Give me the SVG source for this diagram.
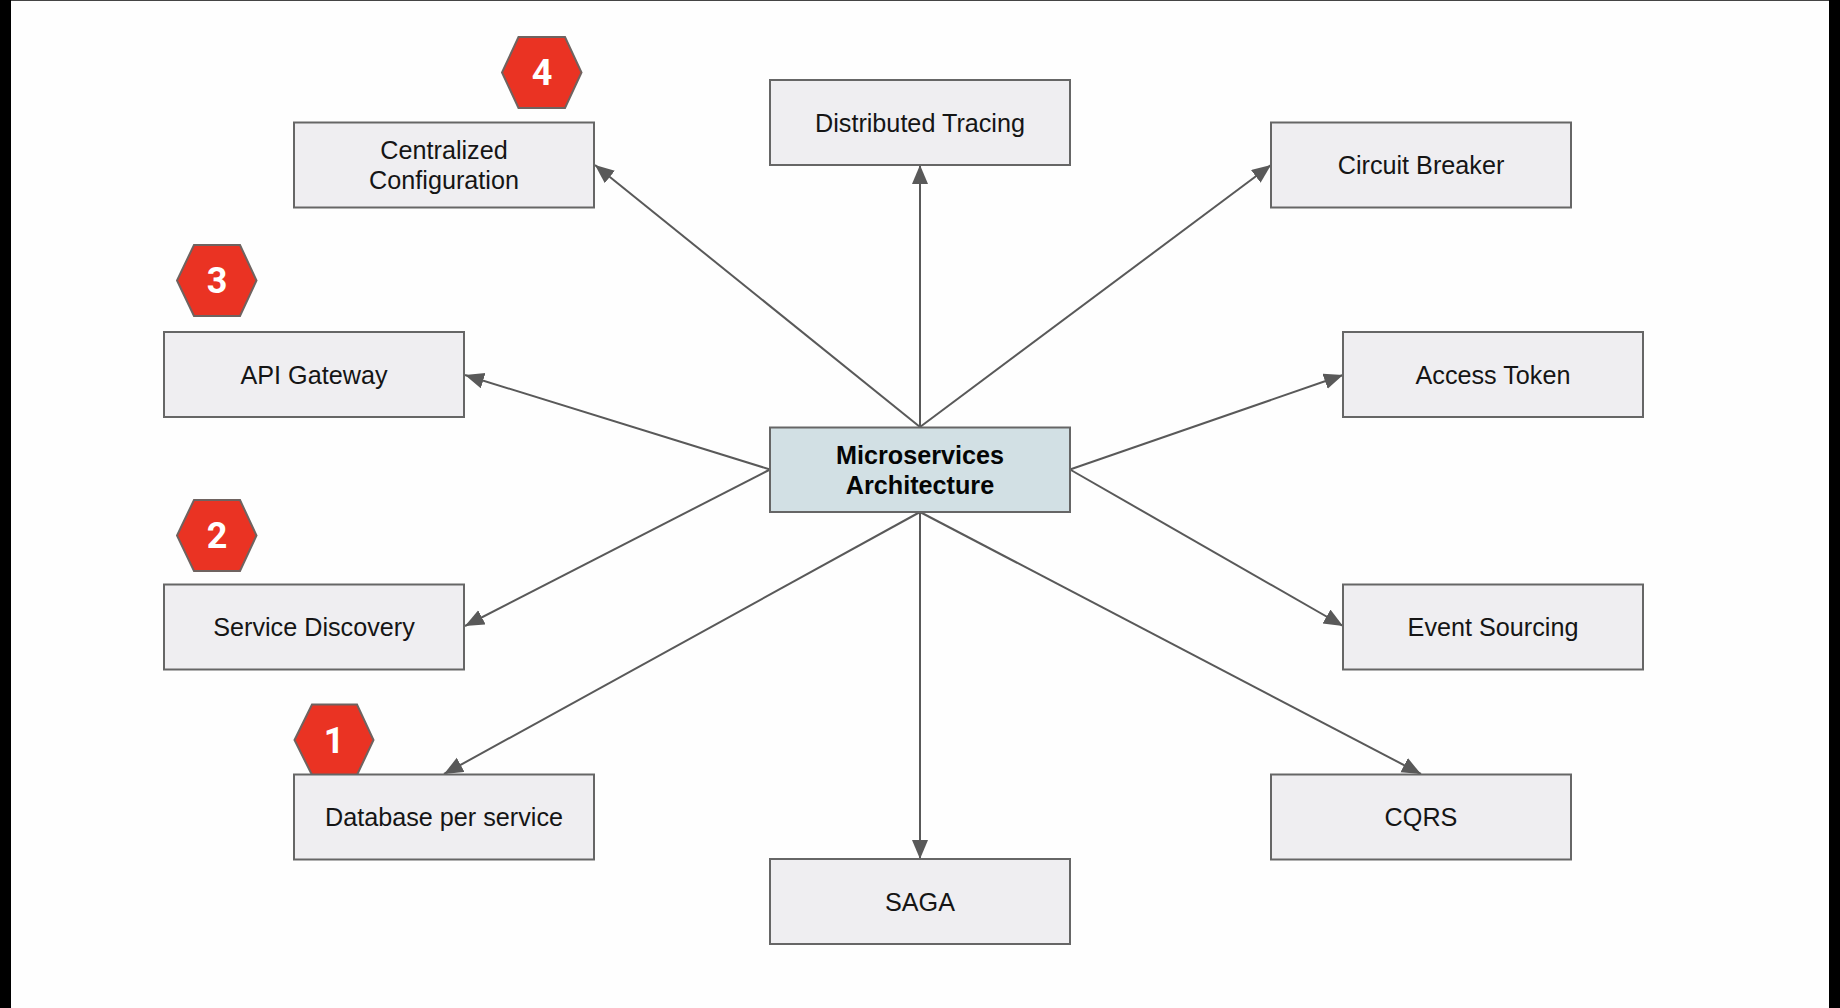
<svg xmlns="http://www.w3.org/2000/svg" width="1840" height="1008" viewBox="0 0 1840 1008">
<style>
text{font-family:"Liberation Sans",Arial,sans-serif;text-anchor:middle}
.b{fill:#efeef1;stroke:#666;stroke-width:2}
.c{fill:#d2e0e4;stroke:#666;stroke-width:2}
.t{font-size:25.200px;fill:#151515}
.tb{font-size:25.200px;font-weight:700;fill:#050505}
.h{fill:#ea3323;stroke:#6f6360;stroke-width:2}
.n{font-family:Roboto,"Liberation Sans",sans-serif;font-size:36px;font-weight:700;fill:#fff}
.l{stroke:#595959;stroke-width:2;fill:none;marker-end:url(#a)}
</style>
<defs><marker id="a" markerUnits="userSpaceOnUse" markerWidth="20" markerHeight="17" refX="19" refY="8" orient="auto"><path d="M0 0L19 8L0 16Z" fill="#595959"/></marker></defs>
<rect width="1840" height="1008" fill="#fefefe"/>
<rect width="11" height="1008" fill="#000"/>
<rect x="1829" width="11" height="1008" fill="#000"/>
<rect x="11" width="1818" height="1" fill="#444"/>
<g id="connectors">
<line class="l" x1="920" y1="427" x2="920" y2="165"/>
<line class="l" x1="920" y1="427" x2="595" y2="165"/>
<line class="l" x1="920" y1="427" x2="1271" y2="165"/>
<line class="l" x1="770" y1="469.500" x2="465" y2="375"/>
<line class="l" x1="1070" y1="469.500" x2="1343" y2="375"/>
<line class="l" x1="770" y1="469.500" x2="465" y2="626"/>
<line class="l" x1="1070" y1="469.500" x2="1343" y2="626"/>
<line class="l" x1="920" y1="512" x2="444" y2="774"/>
<line class="l" x1="920" y1="512" x2="920" y2="859"/>
<line class="l" x1="920" y1="512" x2="1421" y2="774"/>
</g>
<g id="badge-4"><polygon class="h" points="518.500,37 565,37 581.500,72.500 565,108 518.500,108 502,72.500"/><text class="n" x="542" y="85">4</text></g>
<g id="badge-3"><polygon class="h" points="194,245 240,245 256.500,280.500 240,316 194,316 177,280.500"/><text class="n" x="217" y="293">3</text></g>
<g id="badge-2"><polygon class="h" points="194,500 240,500 256.500,535.500 240,571 194,571 177,535.500"/><text class="n" x="217" y="548">2</text></g>
<g id="badge-1"><polygon class="h" points="312,704.500 357,704.500 373.500,740 357,775 312,775 294.500,740"/><text class="n" x="334" y="753">1</text></g>
<g id="central"><rect class="c" x="770" y="427.500" width="300" height="84.500"/><text class="tb" x="920" y="463.500">Microservices</text><text class="tb" x="920" y="493.500">Architecture</text></g>
<g id="distributed-tracing"><rect class="b" x="770" y="80" width="300" height="85"/><text class="t" x="920" y="131.500">Distributed Tracing</text></g>
<g id="centralized-configuration"><rect class="b" x="294" y="122.500" width="300" height="85"/><text class="t" x="444" y="158.500">Centralized</text><text class="t" x="444" y="188.500">Configuration</text></g>
<g id="circuit-breaker"><rect class="b" x="1271" y="122.500" width="300" height="85"/><text class="t" x="1421" y="174">Circuit Breaker</text></g>
<g id="api-gateway"><rect class="b" x="164" y="332" width="300" height="85"/><text class="t" x="314" y="384">API Gateway</text></g>
<g id="access-token"><rect class="b" x="1343" y="332" width="300" height="85"/><text class="t" x="1493" y="384">Access Token</text></g>
<g id="service-discovery"><rect class="b" x="164" y="584.500" width="300" height="85"/><text class="t" x="314" y="636">Service Discovery</text></g>
<g id="event-sourcing"><rect class="b" x="1343" y="584.500" width="300" height="85"/><text class="t" x="1493" y="636">Event Sourcing</text></g>
<g id="database-per-service"><rect class="b" x="294" y="774.500" width="300" height="85"/><text class="t" x="444" y="826">Database per service</text></g>
<g id="cqrs"><rect class="b" x="1271" y="774.500" width="300" height="85"/><text class="t" x="1421" y="826">CQRS</text></g>
<g id="saga"><rect class="b" x="770" y="859" width="300" height="85"/><text class="t" x="920" y="910.500">SAGA</text></g>
</svg>
